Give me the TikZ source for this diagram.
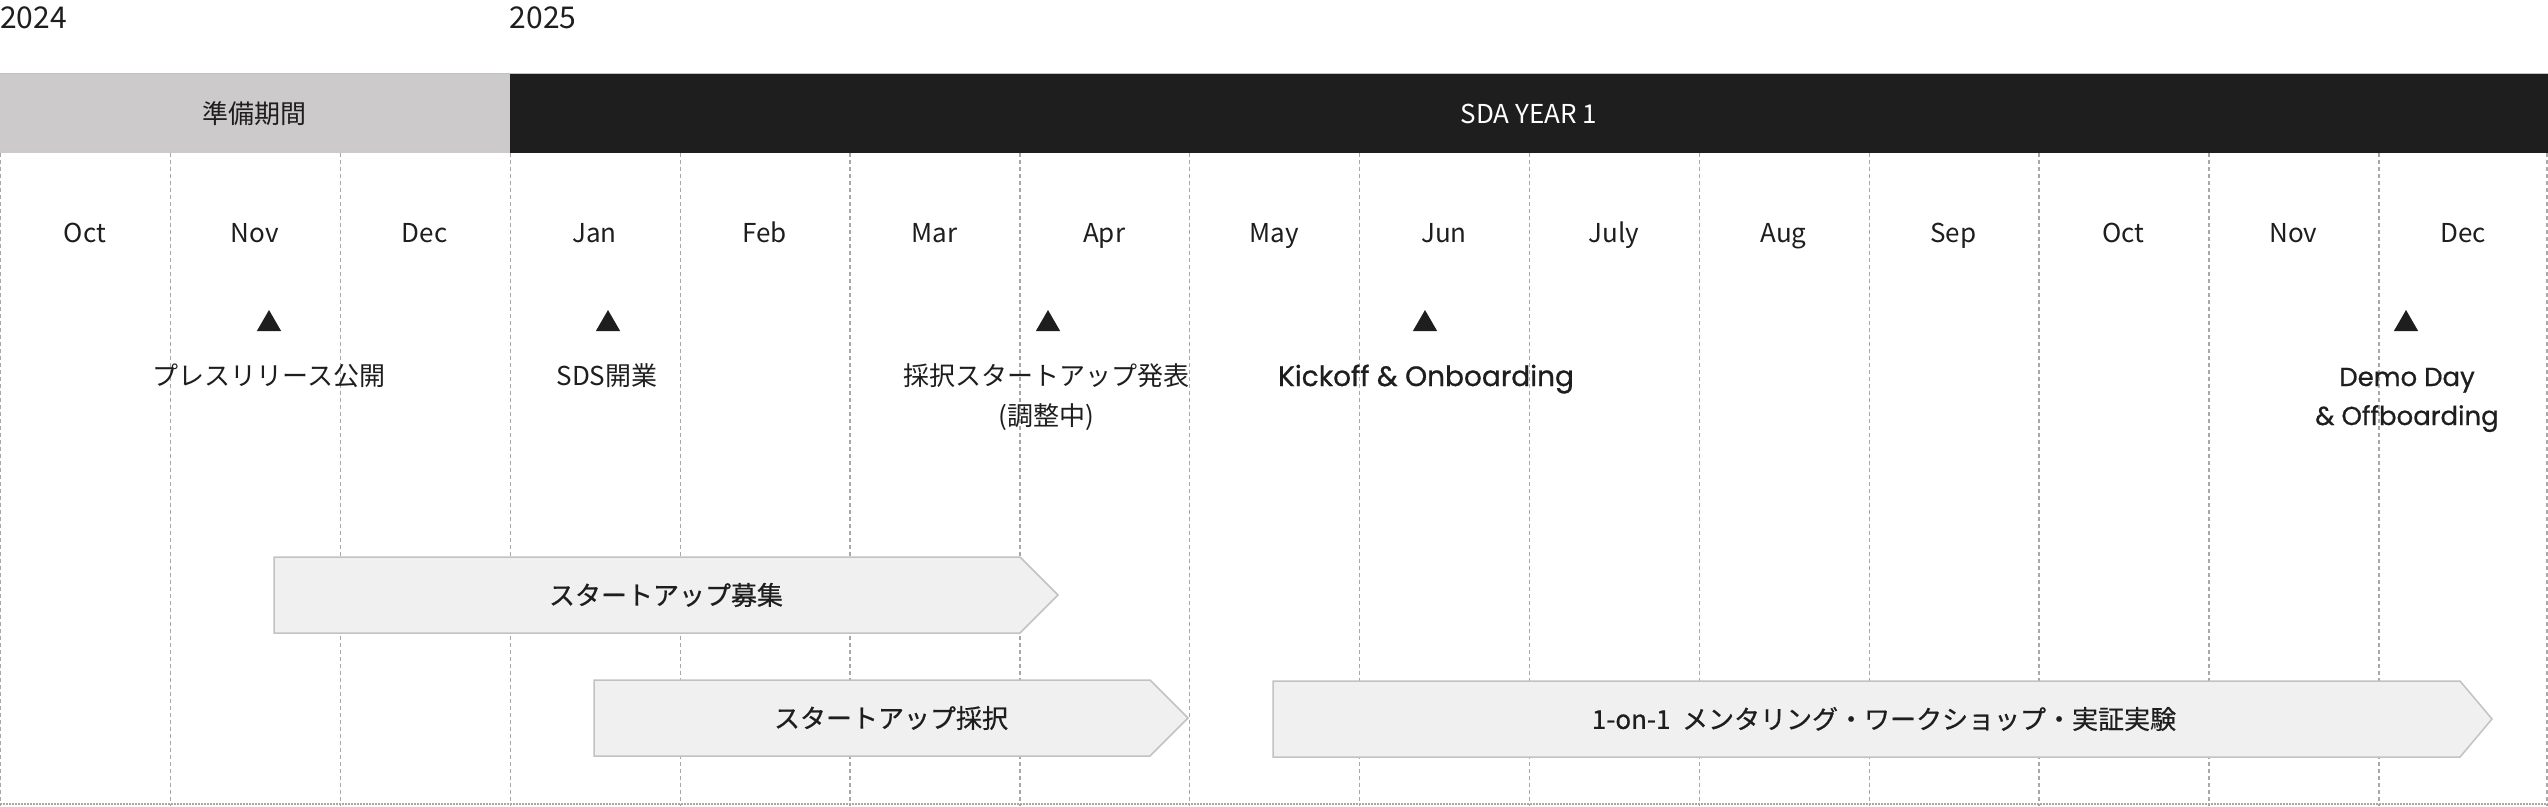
\documentclass[tikz,border=0pt]{standalone}
\usepackage{fontspec}
\setmainfont{Noto Sans CJK JP}
\newfontfamily\pop[FakeBold=0.7]{Poppins}
\newfontfamily\cjkm[FakeBold=0.6]{Noto Sans CJK JP}
\usetikzlibrary{shapes.geometric}
\definecolor{ink}{HTML}{1E1E1E}
\definecolor{prep}{HTML}{CCCACB}
\definecolor{gridc}{HTML}{A8A8A8}
\definecolor{barfill}{HTML}{F0F0F0}
\definecolor{barline}{HTML}{C2C2C2}
\tikzset{
  vline/.style={draw=gridc, line width=1.3pt, dash pattern=on 4pt off 3pt},
  hline/.style={draw=gridc, line width=1.3pt, dash pattern=on 1.5pt off 1.5pt},
  month/.style={anchor=base, text=ink, font=\fontsize{26}{30}\selectfont, inner sep=0pt},
  year/.style={anchor=base west, text=ink, font=\fontsize{30}{34}\selectfont, inner sep=0pt},
  lab/.style={anchor=base, text=ink, font=\fontsize{26}{30}\selectfont, inner sep=0pt},
  plab/.style={anchor=base, text=ink, font=\pop\fontsize{26}{30}\selectfont, inner sep=0pt},
  tri/.style={regular polygon, regular polygon sides=3, fill=ink, minimum size=28pt, inner sep=0pt},
  barbox/.style={fill=barfill, draw=barline, line width=1.5pt, line join=miter},
  bartxt/.style={text=ink, font=\cjkm\fontsize{26}{30}\selectfont, inner sep=0pt},
}
\def\cw{169.8667}
\begin{document}
\begin{tikzpicture}[x=1pt,y=-1pt]
\useasboundingbox (0,0) rectangle (2548,806);
\fill[white] (0,0) rectangle (2548,806);
% grid
\foreach \i in {0,...,14} \draw[vline] ({\i*\cw+0.7},153) -- ({\i*\cw+0.7},806);
\draw[vline] (2547,153) -- (2547,806);
\draw[hline] (0,804) -- (2548,804);
% header
\fill[prep] (0,73) rectangle ({3*\cw},153);
\fill[ink] ({3*\cw},73) rectangle (2548,153);
\draw[barline, line width=1pt] (0,73) -- (2548,73);
\node[text=ink, font=\fontsize{26}{30}\selectfont, inner sep=0pt] (prep) at (254,114) {準備期間};
\node[text=white, font=\fontsize{26}{30}\selectfont, inner sep=0pt] (year1) at (1529,114) {SDA YEAR 1};
% years
\node[year] (y24) at (0,28) {2024};
\node[year] (y25) at ({3*\cw},28) {2025};
% months
\foreach \m [count=\i from 0] in {Oct,Nov,Dec,Jan,Feb,Mar,Apr,May,Jun,July,Aug,Sep,Oct,Nov,Dec}
  \node[month] (m\i) at ({(\i+0.5)*\cw},242) {\m};
% milestones
\node[tri] (t1) at (269,324) {};
\node[tri] (t2) at (608,324) {};
\node[tri] (t3) at (1048,324) {};
\node[tri] (t4) at (1425,324) {};
\node[tri] (t5) at (2406,324) {};
\node[lab] (l1) at (269,385) {プレスリリース公開};
\node[lab] (l2) at (607,385) {SDS開業};
\node[lab] (l3) at (1046,385) {採択スタートアップ発表};
\node[lab] (l3b) at (1046,425) {(調整中)};
\node[plab, font=\pop\fontsize{28}{30}\selectfont] (l4) at (1426,386) {Kickoff \& Onboarding};
\node[plab] (l5) at (2407,386) {Demo Day};
\node[plab] (l5b) at (2407,425) {\& Offboarding};
% bars
\draw[barbox] (274,557) -- (1020,557) -- (1058,595) -- (1020,633) -- (274,633) -- cycle;
\node[bartxt] (b1) at (666,595) {スタートアップ募集};
\draw[barbox] (594,680) -- (1150,680) -- (1188,718) -- (1150,756) -- (594,756) -- cycle;
\node[bartxt] (b2) at (891,718) {スタートアップ採択};
\draw[barbox] (1273,681) -- (2460,681) -- (2492,719) -- (2460,757) -- (1273,757) -- cycle;
\node[bartxt] (b3) at (1884,719) {1-on-1\ \ メンタリング・ワークショップ・実証実験};
\end{tikzpicture}
\end{document}
